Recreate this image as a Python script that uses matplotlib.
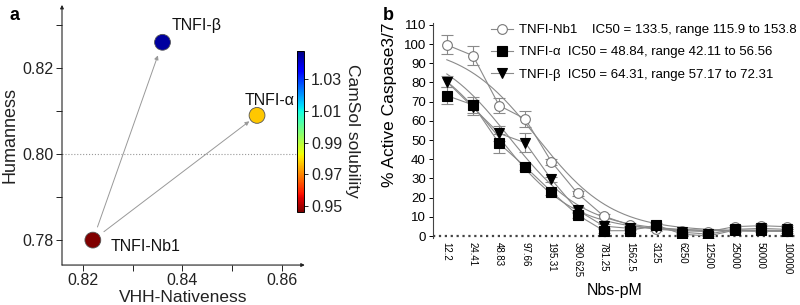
import numpy as np
import matplotlib
matplotlib.use("Agg")
import matplotlib.pyplot as plt
from matplotlib.lines import Line2D

plt.rcParams["font.family"] = ["Liberation Sans", "DejaVu Sans"]

# ─── Panel a data ─────────────────────────────────────────────────────────
names_a = ["TNFI-Nb1", "TNFI-α", "TNFI-β"]
nativeness = [0.822, 0.855, 0.836]
humanness = [0.780, 0.809, 0.826]
camsol = [0.9465, 0.977, 1.045]

# ─── Panel b data ─────────────────────────────────────────────────────────
conc_labels = ["12.2", "24.41", "48.83", "97.66", "195.31", "390.625", "781.25",
               "1562.5", "3125", "6250", "12500", "25000", "50000", "100000"]
conc_pm = [12.2, 24.41, 48.83, 97.66, 195.31, 390.625, 781.25,
           1562.5, 3125, 6250, 12500, 25000, 50000, 100000]
nb1_mean = [99.6, 94, 68, 61, 38.7, 22.2, 10.4, 5.7, 3.5, 2.8, 2.3, 4.9, 5.4, 4.9]
nb1_err = [5, 5, 4, 4, 1.5, 1.5, 1, 1, 1, 1, 1, 1, 1, 1]
alpha_mean = [73.2, 68.3, 48.3, 36.1, 23.1, 11, 2.8, 2.8, 5.7, 1, 0, 3.1, 3.1, 2.8]
alpha_err = [4.5, 4, 5, 1.5, 1.5, 1.5, 1, 1, 1, 1, 1, 1, 1, 1]
beta_mean = [80.5, 67, 53.5, 48.6, 29.5, 13.5, 5.2, 4, 4.5, 2, 1, 3.5, 4, 3.5]
beta_err = [3, 4, 4, 5, 1.5, 1.5, 1, 1, 1, 1, 1, 1, 1, 1]

# fit parameters (4PL, from legend IC50s)
ic50 = {"nb1": 133.5, "alpha": 48.84, "beta": 64.31}
fit_top = 100.0
fit_bottom = 2.5
hill = 1.0

legend_labels = [
    "TNFI-Nb1    IC50 = 133.5, range 115.9 to 153.8",
    "TNFI-α  IC50 = 48.84, range 42.11 to 56.56",
    "TNFI-β  IC50 = 64.31, range 57.17 to 72.31",
]

LINE_GREY = "#8a8a8a"
TXT = "#222222"

fig = plt.figure(figsize=(8, 3.05), dpi=100)

# ─── Panel a ──────────────────────────────────────────────────────────────
ax = fig.add_axes([0.0775, 0.131, 0.3035, 0.853])
ax.set_xlim(0.8158, 0.8646)
ax.set_ylim(0.7742, 0.8347)
for s in ax.spines.values():
    s.set_visible(False)
ax.annotate("", xy=(0, 1.0), xytext=(0, 0), xycoords="axes fraction",
            arrowprops=dict(arrowstyle="-|>", lw=0.8, color=TXT,
                            mutation_scale=5, shrinkA=0, shrinkB=0))
ax.annotate("", xy=(1.0, 0), xytext=(0, 0), xycoords="axes fraction",
            arrowprops=dict(arrowstyle="-|>", lw=0.8, color=TXT,
                            mutation_scale=5, shrinkA=0, shrinkB=0))

ax.axhline(0.80, color="#999", ls=":", lw=0.8, zorder=0)

sc = ax.scatter(nativeness, humanness, c=camsol, cmap="jet_r", vmin=0.9464,
                vmax=1.048, s=130, edgecolors="#555", linewidths=0.6, zorder=3)

# arrows from Nb1 to the engineered variants
for i, sh in [(2, 10), (1, 7)]:
    ax.annotate("", xy=(nativeness[i], humanness[i]),
                xytext=(nativeness[0], humanness[0]),
                arrowprops=dict(arrowstyle="-|>", color="#999", lw=0.7,
                                mutation_scale=6, shrinkA=10, shrinkB=sh))

offsets = {0: (12.5, -4.5), 1: (-9, 11), 2: (6.5, 12)}
for i, name in enumerate(names_a):
    ax.annotate(name, (nativeness[i], humanness[i]), xytext=offsets[i],
                textcoords="offset points", ha="left", va="center",
                fontsize=11.5, color="#111")

ax.set_xticks([0.82, 0.84, 0.86])
ax.set_xticks([0.83, 0.85], minor=True)
ax.set_yticks([0.78, 0.80, 0.82])
ax.set_yticks([0.79, 0.81, 0.83], minor=True)
ax.set_xticklabels(["0.82", "0.84", "0.86"])
ax.set_yticklabels(["0.78", "0.80", "0.82"])
ax.tick_params(which="both", direction="out", length=4, width=0.7,
               labelsize=11.5, colors=TXT, pad=2)
ax.set_xlabel("VHH-Nativeness", fontsize=12.5, color=TXT, labelpad=1)
ax.set_ylabel("Humanness", fontsize=13, color=TXT, labelpad=3)

cax = fig.add_axes([0.3712, 0.306, 0.0088, 0.527])
cb = fig.colorbar(sc, cax=cax)
cb.set_ticks([0.95, 0.97, 0.99, 1.01, 1.03])
cb.ax.tick_params(labelsize=11.5, length=3, width=0.7, colors=TXT, pad=2)
cb.outline.set_linewidth(0.7)
cb.set_label("CamSol solubility", rotation=270, fontsize=12.5, color=TXT,
             labelpad=13)

fig.text(0.012, 0.95, "a", fontsize=13, fontweight="bold", ha="left", va="center")

# ─── Panel b ──────────────────────────────────────────────────────────────
bx = fig.add_axes([0.541, 0.2197, 0.455, 0.705])
x = np.arange(len(conc_labels))
bx.set_xlim(-0.535, 13.38)
bx.set_ylim(-1, 111)

xf = np.linspace(0, len(conc_labels) - 1, 300)
cf = conc_pm[0] * 2.0 ** xf
for key in ["nb1", "alpha", "beta"]:
    yf = fit_bottom + (fit_top - fit_bottom) / (1 + (cf / ic50[key]) ** hill)
    bx.plot(xf, yf, color=LINE_GREY, lw=0.8, zorder=1)

series = [
    (nb1_mean, nb1_err, "o", "white", "#777"),
    (alpha_mean, alpha_err, "s", "black", "black"),
    (beta_mean, beta_err, "v", "black", "black"),
]
handles = []
for (m, e, mk, fc, ec), lab in zip(series, legend_labels):
    bx.errorbar(x, m, yerr=e, fmt="none", ecolor=LINE_GREY, elinewidth=0.8,
                capsize=4, capthick=0.8, zorder=2)
    bx.plot(x, m, color=LINE_GREY, lw=0.8, zorder=2)
    bx.plot(x, m, ls="none", marker=mk, ms=7, mfc=fc, mec=ec, mew=0.8, zorder=3)
    handles.append(Line2D([], [], color=LINE_GREY, lw=0.8, marker=mk, ms=7,
                          mfc=fc, mec=ec, mew=0.8, label=lab))

bx.axhline(0, color="#444", ls=":", lw=1.6, zorder=0)
for s in ["top", "right", "bottom"]:
    bx.spines[s].set_visible(False)
bx.spines["left"].set_color("#444")
bx.spines["left"].set_linewidth(0.8)

bx.set_yticks(np.arange(0, 111, 10))
bx.set_xticks(x)
bx.set_xticklabels(conc_labels, rotation=270, fontsize=7)
bx.tick_params(axis="x", length=0, pad=3)
bx.tick_params(axis="y", length=3, width=0.7, labelsize=9.5, pad=2)
bx.set_xlabel("Nbs-pM", fontsize=11.5, labelpad=4)
bx.set_ylabel("% Active Caspase3/7", fontsize=12.5)
bx.yaxis.set_label_coords(-0.097, 0.62)

bx.legend(handles=handles, loc="upper right", bbox_to_anchor=(1.0, 0.995),
          frameon=False, handlelength=1.7, handletextpad=0.45,
          labelspacing=0.75, borderpad=0, borderaxespad=0,
          prop={"size": 9.5})

fig.text(0.478, 0.95, "b", fontsize=13, fontweight="bold", ha="left", va="center")

fig.savefig("out.png", dpi=100)
